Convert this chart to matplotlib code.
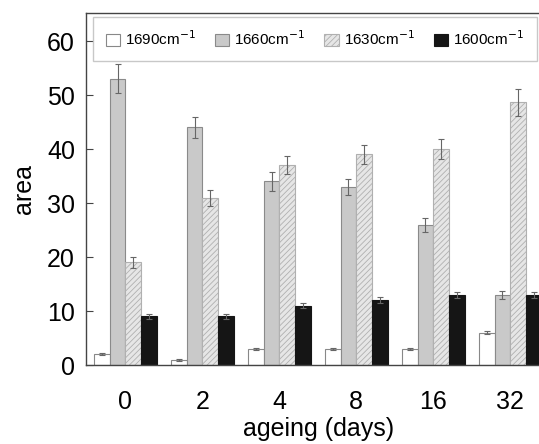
import numpy as np
import matplotlib.pyplot as plt

plt.rcParams['font.family'] = ['Liberation Sans', 'DejaVu Sans']
plt.rcParams['hatch.linewidth'] = 0.6

# ------------------------------
# Data
# ------------------------------
days = ['0', '2', '4', '8', '16', '32']
labels = ['1690cm$^{-1}$', '1660cm$^{-1}$', '1630cm$^{-1}$', '1600cm$^{-1}$']

a1690 = [2, 1, 3, 3, 3, 6]
a1660 = [53, 44, 34, 33, 26, 13]
a1630 = [19, 31, 37, 39, 40, 48.7]
a1600 = [9, 9, 11, 12, 13, 13]

e1690 = [0.2, 0.2, 0.2, 0.2, 0.2, 0.3]
e1660 = [2.7, 2.0, 1.7, 1.5, 1.3, 0.7]
e1630 = [1.0, 1.5, 1.7, 1.8, 1.9, 2.5]
e1600 = [0.4, 0.4, 0.5, 0.6, 0.6, 0.6]

series = [a1690, a1660, a1630, a1600]
errors = [e1690, e1660, e1630, e1600]

# bar styles: face, edge, hatch
styles = [('white', '#888888', None),
          ('#c9c9c9', '#8a8a8a', None),
          ('#e6e6e6', '#b0b0b0', '//////'),
          ('#151515', '#151515', None)]

# ------------------------------
# Plot
# ------------------------------
fig = plt.figure(figsize=(5.39, 4.44), dpi=100)
ax = fig.add_axes([86/539, 79/444, 465/539, 352/444])

x = np.arange(len(days))
w = 0.204
for i, (vals, errs) in enumerate(zip(series, errors)):
    fc, ec, hatch = styles[i]
    ax.bar(x + (i - 1.5) * w, vals, w, color=fc, edgecolor=ec, hatch=hatch,
           linewidth=0.8, label=labels[i], zorder=2)
    ax.errorbar(x + (i - 1.5) * w, vals, yerr=errs, fmt='none',
                ecolor='#666666', elinewidth=0.8, capsize=2.5, capthick=0.8, zorder=3)

ax.set_xlim(-0.513, 5.53)
ax.set_ylim(0, 65.2)
ax.set_xticks(x)
ax.set_xticklabels(days)
ax.set_yticks(np.arange(0, 61, 10))
ax.tick_params(axis='y', direction='in', length=5, width=0.8, labelsize=18, pad=8, color='#444444')
ax.tick_params(axis='x', length=0, labelsize=18, pad=18)
ax.set_xlabel('ageing (days)', fontsize=18, labelpad=2)
ax.set_ylabel('area', fontsize=18, labelpad=8)

for s in ax.spines.values():
    s.set_color('#444444')
    s.set_linewidth(1.0)

leg = ax.legend(loc='upper left', bbox_to_anchor=(0.015, 0.99), ncol=4,
                fontsize=11, frameon=True, fancybox=False, handlelength=0.92,
                handleheight=0.92, handletextpad=0.33, columnspacing=1.25,
                borderpad=0.85, borderaxespad=0.0)
leg.get_frame().set_edgecolor('#bbbbbb')
leg.get_frame().set_linewidth(1.0)

fig.savefig('out.png', dpi=100)
